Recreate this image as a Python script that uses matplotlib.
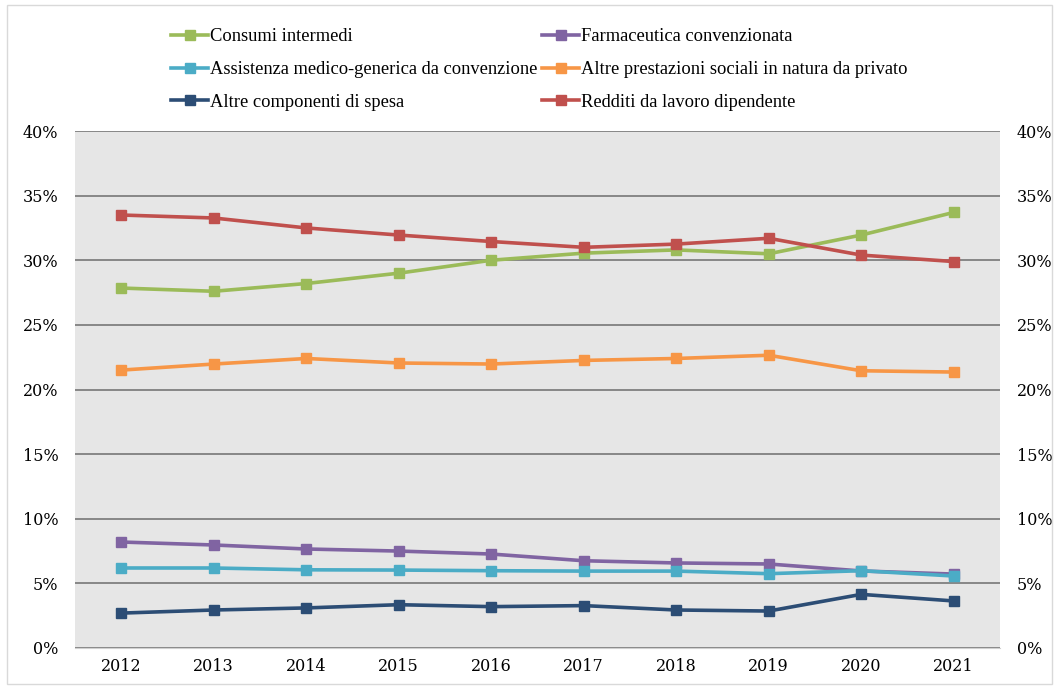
import numpy as np
import matplotlib
matplotlib.use('Agg')
import matplotlib.pyplot as plt
from matplotlib.ticker import FuncFormatter
from matplotlib.patches import Rectangle

years = ['2012', '2013', '2014', '2015', '2016', '2017', '2018', '2019', '2020', '2021']

consumi = [27.85, 27.6, 28.2, 29.0, 30.0, 30.55, 30.8, 30.5, 31.95, 33.7]
farmaceutica = [8.2, 7.97, 7.66, 7.5, 7.27, 6.75, 6.58, 6.5, 5.96, 5.72]
assistenza = [6.19, 6.19, 6.05, 6.03, 5.98, 5.95, 5.95, 5.75, 5.98, 5.57]
prestazioni = [21.5, 21.97, 22.4, 22.05, 21.97, 22.25, 22.4, 22.65, 21.45, 21.35]
altre = [2.7, 2.94, 3.1, 3.35, 3.2, 3.28, 2.94, 2.86, 4.15, 3.64]
redditi = [33.5, 33.27, 32.5, 31.95, 31.45, 31.0, 31.25, 31.7, 30.4, 29.9]

labels = ['Consumi intermedi', 'Farmaceutica convenzionata',
          'Assistenza medico-generica da convenzione',
          'Altre prestazioni sociali in natura da privato',
          'Altre componenti di spesa', 'Redditi da lavoro dipendente']
colors = ['#9BBB59', '#8064A2', '#4BACC6', '#F79646', '#2C4D75', '#C0504D']
series = [consumi, farmaceutica, assistenza, prestazioni, altre, redditi]

fig = plt.figure(figsize=(10.55, 6.86), dpi=100)
ax = fig.add_axes([75/1055, 1-648/686, 925/1055, 517/686])
ax.set_facecolor('#E6E6E6')

x = np.arange(len(years))
lines = []
for s, c, lab in zip(series, colors, labels):
    l, = ax.plot(x, s, color=c, lw=2.6, marker='s', markersize=6.5, label=lab)
    lines.append(l)

ax.set_xlim(-0.5, 9.5)
ax.set_ylim(0, 40)
ax.set_yticks(np.arange(0, 41, 5))
ax.yaxis.set_major_formatter(FuncFormatter(lambda v, p: '%d%%' % v))
ax.set_xticks(x)
ax.set_xticklabels(years)
ax.grid(axis='y', color='#7F7F7F', lw=1.3)
ax.set_axisbelow(True)
for sp in ['left', 'right', 'top']:
    ax.spines[sp].set_visible(False)
ax.spines['bottom'].set_color('#D0D0D0')
ax.tick_params(axis='y', length=0, labelsize=11.5, pad=12)
ax.tick_params(axis='x', length=0, labelsize=11.5, pad=7)
for t in ax.get_yticklabels() + ax.get_xticklabels():
    t.set_fontfamily('DejaVu Serif')

ax2 = ax.twinx()
ax2.set_ylim(0, 40)
ax2.set_yticks(np.arange(0, 41, 5))
ax2.yaxis.set_major_formatter(FuncFormatter(lambda v, p: '%d%%' % v))
for sp in ['left', 'right', 'top', 'bottom']:
    ax2.spines[sp].set_visible(False)
ax2.tick_params(length=0, labelsize=11.5, pad=12)
for t in ax2.get_yticklabels():
    t.set_fontfamily('DejaVu Serif')

order = [0, 2, 4, 1, 3, 5]
fig.legend([lines[i] for i in order], [labels[i] for i in order],
           loc='upper left', bbox_to_anchor=(164/1055, 1-21/686), ncol=2,
           frameon=False, prop={'family': 'Liberation Serif', 'size': 13.3},
           handlelength=2.0, handletextpad=0.1, columnspacing=0.25,
           labelspacing=0.85, borderaxespad=0)

fig.patches.append(Rectangle((7/1055, 0.003), 1045/1055, 0.99, transform=fig.transFigure,
                             fill=False, edgecolor='#D9D9D9', lw=1))

fig.savefig('out.png', dpi=100)
